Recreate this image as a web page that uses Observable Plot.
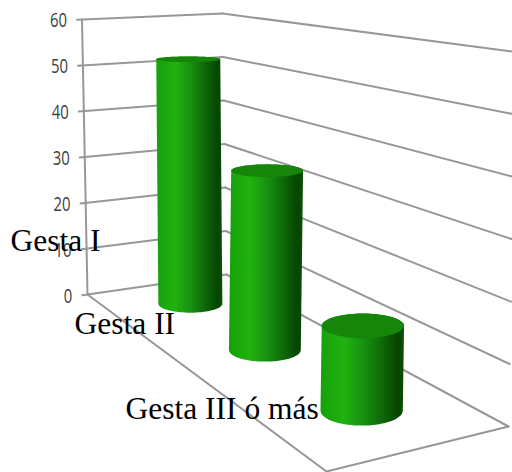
<!DOCTYPE html>
<html>
<head>
<meta charset="utf-8">
<script src="https://cdn.jsdelivr.net/npm/d3@7"></script>
<script src="https://cdn.jsdelivr.net/npm/@observablehq/plot@0.6"></script>
<style>
  html, body { margin: 0; padding: 0; background: #fff; overflow: hidden; }
  svg { display: block; }
</style>
</head>
<body>
<script>
// Chart data
const categories = ["Gesta I", "Gesta II", "Gesta III ó más"];
const values = [52, 34, 14];
const levels = [0, 10, 20, 30, 40, 50, 60];
const maxLevel = 60;

// Perspective box: corners of the floor and of the plane at the top level,
// ordered (t,s) = (0,0), (1,0), (1,1), (0,1).
const floorQuad = [[87, 294], [326, 471], [508, 426], [226, 274]];
const topQuad = [[81.5, 19], [331, 60], [515.5, 51.5], [222, 13]];

// Unit square to quadrilateral homography
function homography([[x0, y0], [x1, y1], [x2, y2], [x3, y3]]) {
  const dx1 = x1 - x2, dx2 = x3 - x2, sx = x0 - x1 + x2 - x3;
  const dy1 = y1 - y2, dy2 = y3 - y2, sy = y0 - y1 + y2 - y3;
  const det = dx1 * dy2 - dx2 * dy1;
  const g = (sx * dy2 - dx2 * sy) / det;
  const h = (dx1 * sy - sx * dy1) / det;
  const a = x1 - x0 + g * x1, b = x3 - x0 + h * x3;
  const d = y1 - y0 + g * y1, e = y3 - y0 + h * y3;
  return (t, s) => {
    const w = g * t + h * s + 1;
    return [(a * t + b * s + x0) / w, (d * t + e * s + y0) / w];
  };
}
const onFloor = homography(floorQuad);
const onTop = homography(topQuad);

// Box coordinates (along the categories, along the depth, value) to screen
function project(t, s, v) {
  const [fx, fy] = onFloor(t, s), [tx, ty] = onTop(t, s);
  const k = v / maxLevel;
  return { x: fx + (tx - fx) * k, y: fy + (ty - fy) * k };
}

// Wall grid: ticks poke out ahead of the left wall
const tickOut = -0.035;
const gridRows = levels.flatMap(v => [
  { v, seg: "left", ...project(0, tickOut, v) },
  { v, seg: "left", ...project(0, 1, v) },
  { v, seg: "right", ...project(0, 1, v) },
  { v, seg: "right", ...project(1, 1, v) }
]);

const edgeRows = [
  { seg: "axis", ...project(0, 0, 0) },
  { seg: "axis", ...project(0, 0, maxLevel) },
  { seg: "floor", ...project(0, 0, 0) },
  { seg: "floor", ...project(1, 0, 0) },
  { seg: "floor", ...project(1, 1, 0) }
];

// Cylinders: circle outlines scaled by the local box height, flattened with
// the distance below the horizon
const radius = 0.1135;
const flatten = y => 0.0008 * (y + 50);
const sweep = d3.range(0, 2 * Math.PI, Math.PI / 36);

function outline(c, rx) {
  const ry = rx * flatten(c.y);
  return sweep.map(a => [c.x + rx * Math.cos(a), c.y + ry * Math.sin(a)]);
}

const cylinders = values.map((value, i) => {
  const t = (2 * i + 1) / (2 * categories.length);
  const base = project(t, 0.5, 0);
  const cap = project(t, 0.5, value);
  const rx = radius * (base.y - project(t, 0.5, maxLevel).y);
  const capLine = outline(cap, rx);
  return {
    body: d3.polygonHull([...outline(base, rx), ...capLine]).map(([x, y]) => ({ x, y })),
    cap: capLine.map(([x, y]) => ({ x, y }))
  };
});

// Category labels sit away from the floor edge
const labelShift = [[-60, -74], [-58, -41], [-49, -22]];
const labelRows = categories.map((label, i) => {
  const p = project((2 * i + 1) / (2 * categories.length), 0, 0);
  return { label, x: p.x + labelShift[i][0], y: p.y + labelShift[i][1] };
});

const tickRows = levels.map(v => ({ v, ...project(0, tickOut, v) }));

const shading = () => {
  const defs = d3.create("svg:defs");
  const g = defs.append("linearGradient").attr("id", "cylinderShade")
    .attr("x1", 0).attr("x2", 1).attr("y1", 0).attr("y2", 0);
  [[0, "#16a00b"], [0.28, "#20b20e"], [0.5, "#179410"], [0.72, "#0e6c08"], [0.93, "#064402"], [1, "#0a5205"]]
    .forEach(([o, c]) => g.append("stop").attr("offset", o).attr("stop-color", c));
  return defs.node();
};

const gridStyle = { stroke: "#979797", strokeWidth: 2 };

const chart = Plot.plot({
  width: 512,
  height: 472,
  margin: 0,
  x: { domain: [0, 512], range: [0, 512], axis: null },
  y: { domain: [0, 472], range: [0, 472], axis: null },
  marks: [
    shading,
    ...levels.flatMap(v => ["right", "left"].map(seg =>
      Plot.line(gridRows.filter(d => d.v === v && d.seg === seg), { x: "x", y: "y", ...gridStyle })
    )),
    ...["axis", "floor"].map(seg =>
      Plot.line(edgeRows.filter(d => d.seg === seg), { x: "x", y: "y", ...gridStyle })
    ),
    Plot.text(tickRows, {
      x: "x", y: "y", text: d => String(d.v), textAnchor: "end", dx: -10, dy: 1,
      className: "level-label",
      fontFamily: "'Open Sans', sans-serif", fontSize: 20.5, fill: "#404040"
    }),
    ...cylinders.flatMap(c => [
      Plot.line(c.body, { x: "x", y: "y", fill: "url(#cylinderShade)", stroke: "none" }),
      Plot.line(c.cap, { x: "x", y: "y", fill: "#15860a", stroke: "none" })
    ]),
    Plot.text(labelRows, {
      x: "x", y: "y", text: "label", textAnchor: "middle",
      fontFamily: "'Liberation Serif', serif", fontSize: 31.5, fill: "#000"
    })
  ]
});

// The level labels are set condensed
d3.select(chart).selectAll(".level-label text")
  .attr("textLength", function () { return this.textContent.length * 8.5; })
  .attr("lengthAdjust", "spacingAndGlyphs");

document.body.appendChild(chart);
</script>
</body>
</html>
